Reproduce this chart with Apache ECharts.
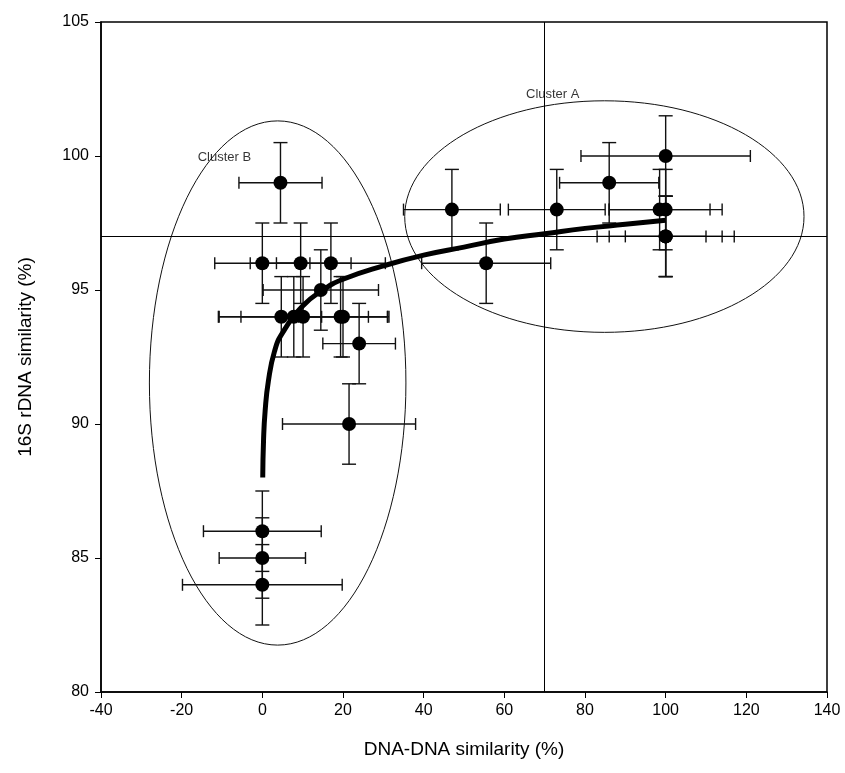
<!DOCTYPE html>
<html lang="en">
<head>
    <meta charset="UTF-8">
    <title>DNA-DNA vs 16S rDNA similarity</title>
    <script src="https://cdn.jsdelivr.net/npm/echarts@6/dist/echarts.min.js"></script>
    <style>
        body { margin: 0; background: #fff; }
        #chart { width: 845px; height: 773px; }
    </style>
</head>
<body>
    <div id="chart"></div>

    <script type="text/javascript">
        // strains: DNA-DNA similarity (x), 16S rDNA similarity (y) and their error ranges
        var dnaSim  = [4.5, 0, 9.5, 17, 14.5, 4.7, 7.8, 10.1, 19.4, 20, 24, 21.5, 0, 0, 0,
                       100, 86, 47, 73, 98.5, 100, 100, 100, 100, 55.5];
        var rdnaSim = [99, 96, 96, 96, 95, 94, 94, 94, 94, 94, 93, 90, 86, 85, 84,
                       100, 99, 98, 98, 98, 98, 97, 97, 97, 96];
        var dnaErr  = [10.3, 11.8, 12.5, 13.5, 14.3, 10, 18.5, 21, 12, 11, 9, 16.5, 14.6, 10.7, 19.8,
                       21, 12.3, 12, 12, 12.5, 14, 17, 14, 10, 16];
        var rdnaErr = [1.5, 1.5, 1.5, 1.5, 1.5, 1.5, 1.5, 1.5, 1.5, 1.5, 1.5, 1.5, 1.5, 1.5, 1.5,
                       1.5, 1.5, 1.5, 1.5, 1.5, 1.5, 1.5, 1.5, 1.5, 1.5];

        // fitted trend curve
        var fitX = [0.1, 0.3, 0.7, 1.5, 3, 5, 10, 15, 20, 30, 40, 50, 60, 70, 80, 90, 100];
        var fitY = [88.0, 89.4, 90.5, 91.6, 92.7, 93.4, 94.4, 95.0, 95.4, 95.9, 96.3, 96.6, 96.9, 97.1, 97.3, 97.45, 97.6];

        // cluster outlines: centre and radii in axis units
        var clusterNames = ['Cluster B', 'Cluster A'];
        var clusterCx = [3.8, 84.8];
        var clusterCy = [91.53, 97.74];
        var clusterRx = [31.8, 49.5];
        var clusterRy = [9.78, 4.32];
        var labelX = [-9.4, 72];
        var labelY = [99.96, 102.3];

        // cut-off lines
        var dnaCutoff = 70;
        var rdnaCutoff = 97;

        var points = dnaSim.map(function (x, i) { return [x, rdnaSim[i]]; });
        var errData = dnaSim.map(function (x, i) { return [x, rdnaSim[i], dnaErr[i], rdnaErr[i]]; });
        var fitData = fitX.map(function (x, i) { return [x, fitY[i]]; });
        var ellipseData = clusterCx.map(function (c, i) { return [c, clusterCy[i], clusterRx[i], clusterRy[i]]; });
        var labelData = clusterNames.map(function (n, i) { return { name: n, value: [labelX[i], labelY[i]] }; });

        var chart = echarts.init(document.getElementById('chart'));
        var font = 'Liberation Sans, Arial, sans-serif';

        // error bars with caps
        function renderErr(params, api) {
            var x = api.value(0), y = api.value(1), ex = api.value(2), ey = api.value(3);
            var l = api.coord([x - ex, y]), r = api.coord([x + ex, y]);
            var t = api.coord([x, y + ey]), b = api.coord([x, y - ey]);
            var st = { stroke: '#111', lineWidth: 1.4 };
            var cap = 6;
            return {
                type: 'group',
                children: [
                    { type: 'line', shape: { x1: l[0], y1: l[1], x2: r[0], y2: r[1] }, style: st },
                    { type: 'line', shape: { x1: t[0], y1: t[1], x2: b[0], y2: b[1] }, style: st },
                    { type: 'line', shape: { x1: l[0], y1: l[1] - cap, x2: l[0], y2: l[1] + cap }, style: st },
                    { type: 'line', shape: { x1: r[0], y1: r[1] - cap, x2: r[0], y2: r[1] + cap }, style: st },
                    { type: 'line', shape: { x1: t[0] - 7, y1: t[1], x2: t[0] + 7, y2: t[1] }, style: st },
                    { type: 'line', shape: { x1: b[0] - 7, y1: b[1], x2: b[0] + 7, y2: b[1] }, style: st }
                ]
            };
        }

        function renderEllipse(params, api) {
            var c = api.coord([api.value(0), api.value(1)]);
            var s = api.size([api.value(2), api.value(3)]);
            return {
                type: 'ellipse',
                shape: { cx: c[0], cy: c[1], rx: s[0], ry: s[1] },
                style: { fill: null, stroke: '#111', lineWidth: 1 }
            };
        }

        chart.setOption({
            animation: false,
            grid: {
                left: 101, right: 18, top: 22, bottom: 81,
                show: true, borderColor: '#000', borderWidth: 1.5
            },
            xAxis: {
                type: 'value', min: -40, max: 140, interval: 20,
                name: 'DNA-DNA similarity (%)', nameLocation: 'middle', nameGap: 48,
                nameTextStyle: { fontFamily: font, fontSize: 19, color: '#000' },
                axisLine: { onZero: false, lineStyle: { color: '#000', width: 1.5 } },
                axisTick: { length: 6, lineStyle: { color: '#000' } },
                axisLabel: { fontFamily: font, fontSize: 16, color: '#000', margin: 11 },
                splitLine: { show: false }
            },
            yAxis: {
                type: 'value', min: 80, max: 105, interval: 5,
                name: '16S rDNA similarity (%)', nameLocation: 'middle', nameGap: 66, nameRotate: 90,
                nameTextStyle: { fontFamily: font, fontSize: 19, color: '#000' },
                axisLine: { show: true, onZero: false, lineStyle: { color: '#000', width: 1.5 } },
                axisTick: { show: true, length: 6, lineStyle: { color: '#000' } },
                axisLabel: { fontFamily: font, fontSize: 16, color: '#000', margin: 12 },
                splitLine: { show: false }
            },
            series: [
                {
                    type: 'custom', renderItem: renderEllipse, data: ellipseData,
                    encode: { x: 0, y: 1 }, silent: true, z: 1
                },
                {
                    type: 'line', data: [], silent: true,
                    markLine: {
                        silent: true, symbol: 'none', label: { show: false },
                        lineStyle: { color: '#000', width: 1, type: 'solid' },
                        data: [{ xAxis: dnaCutoff }, { yAxis: rdnaCutoff }]
                    }
                },
                {
                    type: 'custom', renderItem: renderErr, data: errData,
                    encode: { x: 0, y: 1 }, silent: true, z: 3
                },
                {
                    type: 'line', data: fitData, smooth: true, showSymbol: false,
                    lineStyle: { color: '#000', width: 5 }, silent: true, z: 4
                },
                {
                    type: 'scatter', data: points, symbolSize: 14,
                    itemStyle: { color: '#000', opacity: 1 }, z: 5
                },
                {
                    type: 'scatter', data: labelData, symbolSize: 0, silent: true,
                    label: {
                        show: true, position: 'inside', formatter: '{b}',
                        fontFamily: font, fontSize: 13, color: '#000'
                    }
                }
            ]
        });
    </script>
</body>
</html>
